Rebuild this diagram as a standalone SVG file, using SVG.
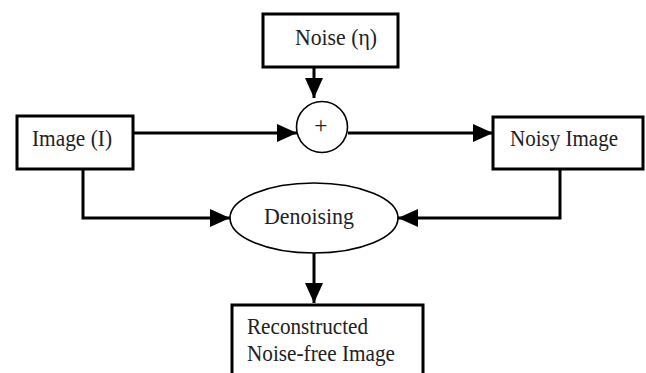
<svg xmlns="http://www.w3.org/2000/svg" width="646" height="373" viewBox="0 0 646 373">
<defs>
<marker id="ah" markerUnits="userSpaceOnUse" markerWidth="20" markerHeight="18" refX="20" refY="9" orient="auto">
<path d="M0,0 L20,9 L0,18 z" fill="#000"/>
</marker>
<style>
.box{fill:#fff;stroke:#000;stroke-width:3}
.thin{fill:#fff;stroke:#000;stroke-width:1.6}
.t{font-family:"Liberation Serif","Times New Roman",serif;font-size:23.5px;fill:#222}
.c{stroke:#000;stroke-width:3;fill:none;marker-end:url(#ah)}
</style>
</defs>
<rect width="646" height="373" fill="#fff"/>
<g id="connectors">
<path class="c" d="M314,67 V98"/>
<path class="c" d="M133,133 H297"/>
<path class="c" d="M348,133 H493"/>
<path class="c" d="M83,169 V218 H230"/>
<path class="c" d="M560,169 V218 H398"/>
<path class="c" d="M314,253 V303"/>
</g>
<g id="noise">
<rect class="box" x="263" y="14" width="135" height="53"/>
<text class="t" x="295" y="45" textLength="82" lengthAdjust="spacingAndGlyphs">Noise (η)</text>
</g>
<g id="sum">
<circle class="thin" cx="322" cy="127" r="25.5"/>
<text class="t" x="321" y="133" text-anchor="middle" font-size="14">+</text>
</g>
<g id="image">
<rect class="box" x="17" y="116" width="116" height="53"/>
<text class="t" x="32" y="146" textLength="80" lengthAdjust="spacingAndGlyphs">Image (I)</text>
</g>
<g id="noisy">
<rect class="box" x="493" y="117" width="150" height="52"/>
<text class="t" x="510" y="146" textLength="108" lengthAdjust="spacingAndGlyphs">Noisy Image</text>
</g>
<g id="denoising">
<ellipse class="thin" cx="314" cy="218" rx="84" ry="35"/>
<text class="t" x="264" y="224" textLength="90" lengthAdjust="spacingAndGlyphs">Denoising</text>
</g>
<g id="reconstructed">
<rect class="box" x="232" y="305" width="191" height="80"/>
<text class="t" x="247" y="334" textLength="121" lengthAdjust="spacingAndGlyphs">Reconstructed</text>
<text class="t" x="247" y="361" textLength="148" lengthAdjust="spacingAndGlyphs">Noise-free Image</text>
</g>
</svg>
